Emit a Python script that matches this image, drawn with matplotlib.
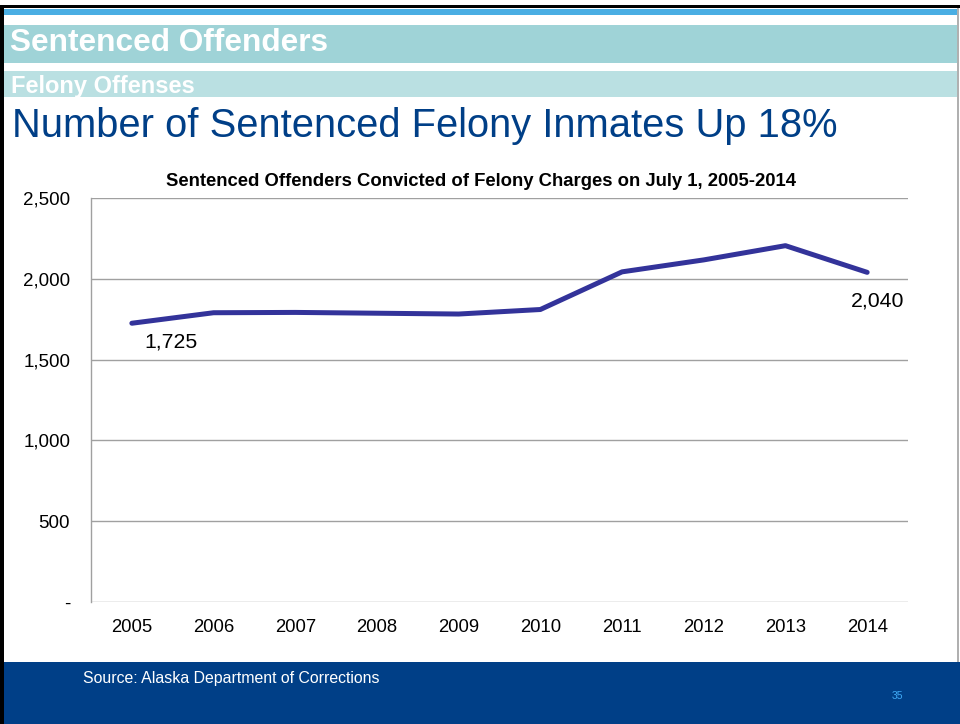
import matplotlib
matplotlib.use("Agg")
import matplotlib.pyplot as plt
from matplotlib.patches import Rectangle

plt.rcParams['font.family'] = ['Liberation Sans', 'DejaVu Sans']

years = ["2005", "2006", "2007", "2008", "2009", "2010", "2011", "2012", "2013", "2014"]
inmates = [1725, 1790, 1792, 1787, 1782, 1810, 2043, 2117, 2205, 2040]
y_ticks = [0, 500, 1000, 1500, 2000, 2500]
y_tick_labels = ["-", "500", "1,000", "1,500", "2,000", "2,500"]
labels_shown = {0: "1,725", 9: "2,040"}

W, H = 960, 724
fig = plt.figure(figsize=(W / 100, H / 100), dpi=100)

def fx(x):
    return x / W

def fy(y):
    return 1 - y / H

def rect(x0, y0, x1, y1, color):
    fig.patches.append(Rectangle((fx(x0), fy(y1)), fx(x1 - x0), (y1 - y0) / H,
                                 transform=fig.transFigure, color=color, zorder=0, lw=0))

# slide decorations
rect(0, 5, 960, 8, "black")
rect(0, 5, 4, 724, "black")
rect(957, 8, 958.5, 662, "#B0B0B0")
rect(4, 8.5, 957, 15, "#4AAEE3")
rect(4, 25, 957, 62.5, "#9FD3D7")
rect(4, 71, 957, 97, "#BAE0E2")
rect(4, 662, 960, 724, "#003F87")

fig.text(fx(10), fy(43), "Sentenced Offenders", color="white", fontsize=22.8,
         fontweight="bold", va="center", ha="left")
fig.text(fx(11), fy(86), "Felony Offenses", color="white", fontsize=17,
         fontweight="bold", va="center", ha="left")
fig.text(fx(12), fy(126), "Number of Sentenced Felony Inmates Up 18%", color="#003F87",
         fontsize=28.7, va="center", ha="left")
fig.text(fx(83), fy(678), "Source: Alaska Department of Corrections", color="white",
         fontsize=11.4, va="center", ha="left")
fig.text(fx(897), fy(696), "35", color="#3FA9F5", fontsize=7.5, va="center", ha="center")

# chart
ax = fig.add_axes([fx(91), fy(602), fx(908 - 91), (602 - 198) / H])
x = [i + 0.5 for i in range(len(years))]
ax.plot(x, inmates, color="#33339A", lw=3.6, solid_capstyle="round", solid_joinstyle="round",
        zorder=3)
ax.set_xlim(0, len(years))
ax.set_ylim(0, 2500)
ax.set_xticks(x)
ax.set_xticklabels(years, fontsize=13.3)
ax.set_yticks(y_ticks)
ax.set_yticklabels(y_tick_labels, fontsize=13.5)
ax.tick_params(axis="both", length=0)
ax.tick_params(axis="x", pad=12)
ax.tick_params(axis="y", pad=15)
ax.grid(axis="y", color="#A0A0A0", lw=1)
ax.set_axisbelow(True)
for s in ["top", "right", "bottom"]:
    ax.spines[s].set_visible(False)
ax.spines["left"].set_color("#A0A0A0")
ax.spines["left"].set_linewidth(1)

ax.annotate(labels_shown[0], (x[0], inmates[0]), xytext=(39, -19), textcoords="offset pixels",
            ha="center", va="center", fontsize=15.3)
ax.annotate(labels_shown[9], (x[9], inmates[9]), xytext=(10, -29), textcoords="offset pixels",
            ha="center", va="center", fontsize=15.3)

fig.text(fx(481), fy(181), "Sentenced Offenders Convicted of Felony Charges on July 1, 2005-2014",
         fontsize=13.3, fontweight="bold", ha="center", va="center")

fig.savefig("out.png", dpi=100, facecolor="white")
